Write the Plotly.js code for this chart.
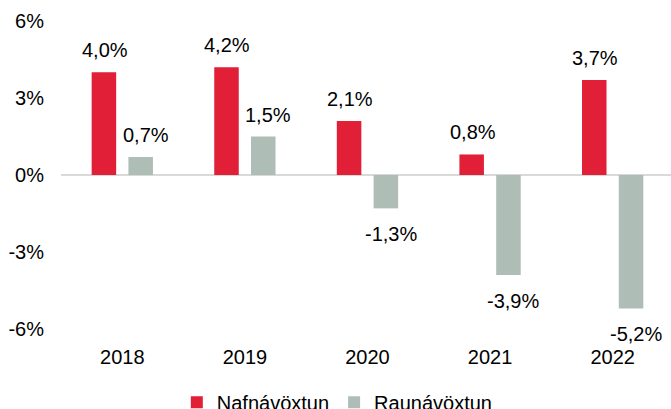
<!DOCTYPE html>
<html><head><meta charset="utf-8">
<script src="https://cdn.plot.ly/plotly-3.0.1.min.js"></script>
<style>html,body{margin:0;padding:0;overflow:hidden;background:#fff}</style>
</head><body><div id="chart" style="width:671px;height:409px"></div>
<script>
const years = ['2018', '2019', '2020', '2021', '2022'];
const nafnavoxtun = [4.0, 4.2, 2.1, 0.8, 3.7];
const raunavoxtun = [0.7, 1.5, -1.3, -3.9, -5.2];
const yTickVals = [-6, -3, 0, 3, 6];
const yTickText = ['-6%', '-3%', '0%', '3%', '6%'];
const seriesNames = ['Nafnávöxtun', 'Raunávöxtun'];

const RED = '#E11F37';
const GREY = '#AFBDB7';
const FONT = 'Liberation Sans, Arial, sans-serif';

function fmt(v) { return v.toFixed(1).replace('.', ',') + '%'; }

const traces = [
  { type: 'bar', name: seriesNames[0], x: years, y: nafnavoxtun,
    width: 0.2, offset: -0.25, marker: { color: RED }, hoverinfo: 'skip' },
  { type: 'bar', name: seriesNames[1], x: years, y: raunavoxtun,
    width: 0.2, offset: 0.05, marker: { color: GREY }, hoverinfo: 'skip' }
];

const annotations = [];
[nafnavoxtun, raunavoxtun].forEach((arr, s) => {
  arr.forEach((v, i) => {
    annotations.push({
      x: i + (s === 0 ? -0.15 : 0.15), y: v, xref: 'x', yref: 'y',
      text: fmt(v), showarrow: false,
      yshift: v >= 0 ? 22 : -26, xshift: s === 0 ? 1 : 5,
      font: { family: FONT, size: 20, color: '#000' }
    });
  });
});

const layout = {
  width: 671, height: 409,
  margin: { l: 61, r: 0, t: 21, b: 80 },
  paper_bgcolor: '#fff', plot_bgcolor: '#fff',
  font: { family: FONT, size: 20, color: '#000' },
  barmode: 'group',
  showlegend: true,
  legend: { orientation: 'h', xref: 'container', yref: 'container',
            x: 0.2635, xanchor: 'left', y: 0.064, yanchor: 'top',
            font: { family: FONT, size: 20, color: '#000' } },
  xaxis: { type: 'category', range: [-0.5, 4.476], showline: false, showgrid: false,
           zeroline: false, ticks: '', ticklabelstandoff: 14,
           tickfont: { family: FONT, size: 20, color: '#000' } },
  yaxis: { range: [-6, 6], tickvals: yTickVals, ticktext: yTickText,
           showgrid: false, showline: false, zeroline: true,
           zerolinecolor: '#D9D9D9', zerolinewidth: 1.5, ticks: '',
           ticklabelstandoff: 16,
           tickfont: { family: FONT, size: 20, color: '#000' } },
  annotations: annotations
};

Plotly.newPlot('chart', traces, layout, { displayModeBar: false, staticPlot: true });
</script>
</body></html>
